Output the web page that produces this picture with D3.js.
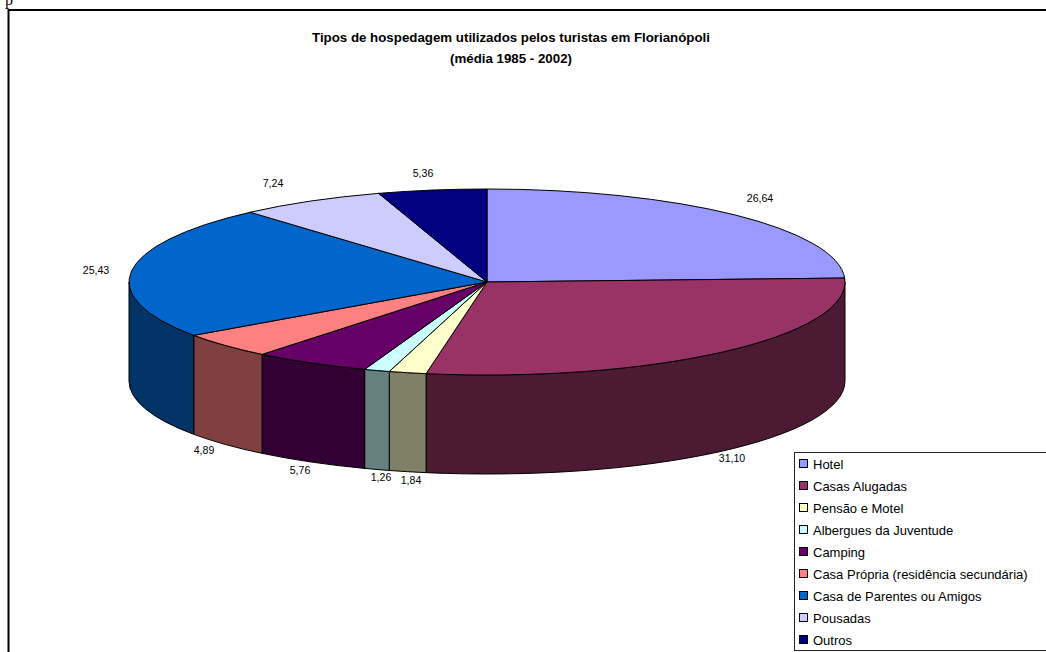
<!DOCTYPE html>
<html><head><meta charset="utf-8">
<script src="https://cdn.jsdelivr.net/npm/d3@7"></script>
<style>html,body{margin:0;padding:0;background:#fff;overflow:hidden}svg{display:block}text{font-family:"Liberation Sans",Arial,sans-serif;fill:#000}</style>
</head><body>
<script>
const categories=["Hotel","Casas Alugadas","Pensão e Motel","Albergues da Juventude","Camping","Casa Própria (residência secundária)","Casa de Parentes ou Amigos","Pousadas","Outros"];
const values=[26.64,31.10,1.84,1.26,5.76,4.89,25.43,7.24,5.36];
const valueLabels=["26,64","31,10","1,84","1,26","5,76","4,89","25,43","7,24","5,36"];
const topColors=["#9999FF","#993366","#FFFFCC","#CCFFFF","#660066","#FF8080","#0066CC","#CCCCFF","#000080"];
const sideColors=["#4D4D80","#4D1A33","#808066","#668080","#330033","#804040","#003366","#666680","#000040"];
const labelPos=[[760,202],[732,462],[411,484],[381,481],[300,474],[204,454],[96,274],[273,187],[423,177]];

const W=1046,H=652,cx=487,cy=282,rx=358,ry=93,depth=99;
const svg=d3.select("body").append("svg").attr("width",W).attr("height",H);
const px=a=>cx+rx*Math.sin(a), py=a=>cy-ry*Math.cos(a);
const arcs=d3.pie().sort(null).value(d=>d)(values);

// clipped caption line above the frame
svg.append("text").attr("x",5).attr("y",5).attr("font-family","Liberation Serif").style("font-family","'Liberation Serif',serif").attr("font-size",16).text("p");

svg.append("rect").attr("x",8.5).attr("y",10).attr("width",W+10).attr("height",H+10).attr("fill","#fff").attr("stroke","#000").attr("stroke-width",2);

const title=svg.append("text").attr("text-anchor","middle").attr("font-weight","bold").attr("font-size",13.3);
title.append("tspan").attr("x",511).attr("y",42).text("Tipos de hospedagem utilizados pelos turistas em Florianópoli");
title.append("tspan").attr("x",511).attr("y",63).text("(média 1985 - 2002)");

const lo=Math.PI/2, hi=3*Math.PI/2;
const wall=arcs.map((d,i)=>({i,a0:Math.max(d.startAngle,lo),a1:Math.min(d.endAngle,hi)})).filter(d=>d.a1>d.a0);
svg.append("g").selectAll("path").data(wall).join("path")
 .attr("d",d=>`M${px(d.a0)},${py(d.a0)}A${rx},${ry} 0 0 1 ${px(d.a1)},${py(d.a1)}L${px(d.a1)},${py(d.a1)+depth}A${rx},${ry} 0 0 0 ${px(d.a0)},${py(d.a0)+depth}Z`)
 .attr("fill",d=>sideColors[d.i]).attr("stroke","#000").attr("stroke-width",1);
svg.append("g").selectAll("path").data(arcs).join("path")
 .attr("d",d=>`M${cx},${cy}L${px(d.startAngle)},${py(d.startAngle)}A${rx},${ry} 0 ${d.endAngle-d.startAngle>Math.PI?1:0} 1 ${px(d.endAngle)},${py(d.endAngle)}Z`)
 .attr("fill",(d,i)=>topColors[i]).attr("stroke","#000").attr("stroke-width",1).attr("stroke-linejoin","round");

svg.append("g").selectAll("text").data(valueLabels).join("text")
 .attr("x",(d,i)=>labelPos[i][0]).attr("y",(d,i)=>labelPos[i][1]).attr("text-anchor","middle").attr("font-size",10.6).attr("fill","#000").text(d=>d);

const lx=795,ly=453,rowH=22;
svg.append("rect").attr("x",lx-.5).attr("y",ly-.5).attr("width",W).attr("height",198).attr("fill","#fff").attr("stroke","#222").attr("stroke-width",1);
const rows=svg.append("g").selectAll("g").data(categories).join("g").attr("transform",(d,i)=>`translate(${lx+4},${ly+6+i*rowH})`);
rows.append("rect").attr("x",.5).attr("y",.5).attr("width",8).attr("height",8).attr("fill",(d,i)=>topColors[i]).attr("stroke","#000");
rows.append("text").attr("x",14).attr("y",9.5).attr("font-size",13).text(d=>d);
</script>
</body></html>
